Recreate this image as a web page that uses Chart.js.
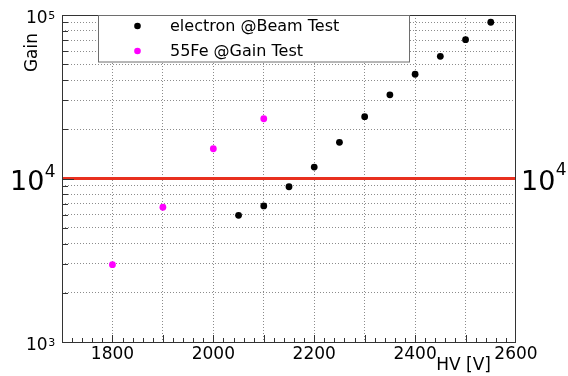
<!DOCTYPE html>
<html><head><meta charset="utf-8">
<script src="https://cdn.jsdelivr.net/npm/chart.js@4/dist/chart.umd.min.js"></script>
<style>html,body{margin:0;padding:0;background:#fff;}#wrap{width:568px;height:376px;}</style>
</head><body><div id="wrap"><canvas id="c" width="568" height="376"></canvas></div>
<script>
// ---- data ----
const hvElectron   = [2050, 2100, 2150, 2200, 2250, 2300, 2350, 2400, 2450, 2500, 2550];
const gainElectron = [5950, 6800, 8900, 11750, 16650, 23900, 32500, 43400, 55900, 70600, 90300];
const hvFe55       = [1800, 1900, 2000, 2100];
const gainFe55     = [2970, 6670, 15200, 23200];
const seriesLabels = ['electron @Beam Test', '55Fe @Gain Test'];
const xTickLabels  = [1800, 2000, 2200, 2400, 2600];
const yTickExponents = [3, 5];
const bigLabelExponent = 4;
const refGain = 10000;
const xRange = [1700, 2600];
const yRange = [1000, 100000];

const FONT = "'DejaVu Sans', sans-serif";
const gridColor = '#8c8c8c';
const frameColor = '#333333';

const yGridValues = [];
for (let e = 3; e < 5; e++) for (let m = 1; m <= 9; m++) yGridValues.push(m * Math.pow(10, e));
yGridValues.push(100000);

function toXY(xs, ys) { return xs.map((x, i) => ({x: x, y: ys[i]})); }

function drawPow(ctx, x, baseline, exp, size, supSize, supRaise) {
  ctx.font = size + 'px ' + FONT;
  ctx.textAlign = 'left';
  ctx.textBaseline = 'alphabetic';
  ctx.fillText('10', x, baseline);
  const w = ctx.measureText('10').width;
  ctx.font = supSize + 'px ' + FONT;
  ctx.fillText(String(exp), x + w + 0.5, baseline - supRaise);
}

const decor = {
  id: 'decor',
  afterDatasetsDraw(chart) {
    const ctx = chart.ctx, a = chart.chartArea;
    const xs = chart.scales.x, ys = chart.scales.y;
    ctx.save();
    // inward ticks
    ctx.strokeStyle = frameColor; ctx.lineWidth = 1;
    ctx.beginPath();
    for (let v = xRange[0] + 20; v < xRange[1]; v += 20) {
      const px = Math.round(xs.getPixelForValue(v)) + 0.5;
      const len = (v % 100 === 0) ? 7 : 4;
      ctx.moveTo(px, a.bottom); ctx.lineTo(px, a.bottom - len);
    }
    yGridValues.forEach(v => {
      if (v <= yRange[0] || v >= yRange[1]) return;
      const py = Math.round(ys.getPixelForValue(v)) + 0.5;
      const len = (Math.log10(v) % 1 === 0) ? 12 : 6;
      ctx.moveTo(a.left, py); ctx.lineTo(a.left + len, py);
    });
    ctx.stroke();
    // frame
    ctx.strokeStyle = frameColor; ctx.lineWidth = 1;
    ctx.strokeRect(Math.round(a.left) + 0.5, Math.round(a.top) + 0.5,
                   Math.round(a.right) - Math.round(a.left) - 1, Math.round(a.bottom) - Math.round(a.top));
    // legend
    const lx = 98.5, ly = 15.5, lw = 311, lh = 46.5;
    ctx.fillStyle = '#fff';
    ctx.fillRect(lx, ly, lw, lh);
    ctx.strokeStyle = '#6e6e6e';
    ctx.strokeRect(lx, ly, lw, lh);
    const ds = chart.data.datasets.filter(d => d.inLegend);
    ds.forEach((d, i) => {
      const cy = 26 + i * 25;
      ctx.fillStyle = d.backgroundColor;
      ctx.beginPath(); ctx.arc(137.5, cy, 3.3, 0, Math.PI * 2); ctx.fill();
      ctx.fillStyle = '#000';
      ctx.font = '16px ' + FONT;
      ctx.textAlign = 'left'; ctx.textBaseline = 'middle';
      ctx.fillText(d.label, 170, cy + 1);
    });
    // y labels (powers of ten)
    ctx.fillStyle = '#000';
    yTickExponents.forEach(e => {
      const py = ys.getPixelForValue(Math.pow(10, e));
      drawPow(ctx, 26, py + 8, e, 17, 11, 4);
    });
    // big 10^4 labels on both sides
    const pyRef = ys.getPixelForValue(refGain);
    drawPow(ctx, 10, pyRef + 11, bigLabelExponent, 27, 17, 13);
    drawPow(ctx, 521, pyRef + 11, bigLabelExponent, 27, 17, 15);
    // axis titles
    ctx.font = '17px ' + FONT;
    ctx.textAlign = 'right'; ctx.textBaseline = 'alphabetic';
    ctx.fillText('HV [V]', 491, 370);
    ctx.translate(37, 33);
    ctx.rotate(-Math.PI / 2);
    ctx.fillText('Gain', 0, 0);
    ctx.restore();
  }
};

new Chart(document.getElementById('c'), {
  type: 'scatter',
  data: {
    datasets: [
      { type: 'line', label: 'ref', data: [{x: xRange[0], y: refGain}, {x: xRange[1], y: refGain}],
        borderColor: '#e8301f', borderWidth: 3, pointRadius: 0, fill: false, inLegend: false, order: 3 },
      { label: seriesLabels[0], data: toXY(hvElectron, gainElectron), backgroundColor: '#000000',
        borderWidth: 0, pointRadius: 3.4, inLegend: true, order: 1 },
      { label: seriesLabels[1], data: toXY(hvFe55, gainFe55), backgroundColor: '#ff00ff',
        borderWidth: 0, pointRadius: 3.4, inLegend: true, order: 2 }
    ]
  },
  options: {
    responsive: false, animation: false, devicePixelRatio: 1,
    layout: { padding: { left: 0, top: 15, right: 52, bottom: 0 } },
    plugins: { legend: { display: false }, tooltip: { enabled: false } },
    scales: {
      x: {
        type: 'linear', min: xRange[0], max: xRange[1],
        afterFit: s => { s.height = 34; },
        ticks: { stepSize: 100, autoSkip: false, maxRotation: 0, padding: 2, color: '#000',
                 font: { family: 'DejaVu Sans', size: 17 },
                 callback: v => xTickLabels.includes(v) ? String(v) : '' },
        grid: { drawTicks: false, lineWidth: 1,
                color: c => (c.tick && (c.tick.value === xRange[0] || c.tick.value === xRange[1])) ? 'rgba(0,0,0,0)' : gridColor },
        border: { display: false, dash: [1, 2] }
      },
      y: {
        type: 'logarithmic', min: yRange[0], max: yRange[1],
        afterFit: s => { s.width = 62; },
        afterBuildTicks: s => { s.ticks = yGridValues.map(v => ({ value: v })); },
        ticks: { display: false },
        grid: { drawTicks: false, lineWidth: 1,
                color: c => (c.tick && (c.tick.value === yRange[0] || c.tick.value === yRange[1] || c.tick.value === refGain)) ? 'rgba(0,0,0,0)' : gridColor },
        border: { display: false, dash: [1, 2] }
      }
    }
  },
  plugins: [decor]
});
</script></body></html>
